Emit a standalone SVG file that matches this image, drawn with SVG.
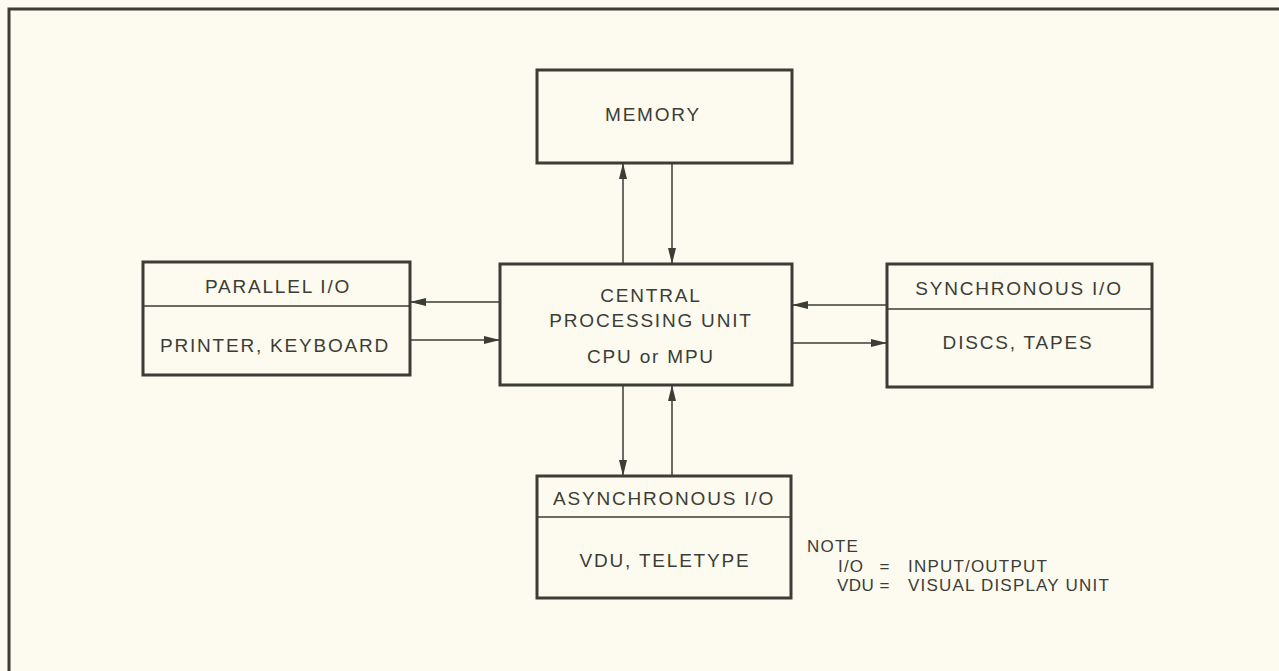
<svg xmlns="http://www.w3.org/2000/svg" width="1279" height="671" viewBox="0 0 1279 671">
<defs>
<style>
.box{fill:none;stroke:#3b3d36;stroke-width:3}
.div{stroke:#3b3d36;stroke-width:1.5}
.con{stroke:#3b3d36;stroke-width:1.5;fill:none}
text{font-family:"Liberation Sans",Arial,sans-serif;font-size:19px;fill:#3b3d36;letter-spacing:1.8px}
.c{text-anchor:middle}
.n{font-size:17px;letter-spacing:1.2px}
.t{letter-spacing:0.4px}
</style>
<marker id="ah" viewBox="0 0 16 8" refX="16" refY="4" markerWidth="16" markerHeight="8" markerUnits="userSpaceOnUse" orient="auto">
<path d="M0,0 L16,4 L0,8 Z" fill="#3b3d36"/>
</marker>
</defs>
<rect width="1279" height="671" fill="#fdfaef"/>
<g id="frame">
<path d="M1279,9 L9,9 L9,671" fill="none" stroke="#3b3d36" stroke-width="3"/>
</g>
<g id="memory">
<rect class="box" x="537" y="70" width="255" height="93"/>
<text class="c" x="653" y="121">MEMORY</text>
</g>
<g id="parallel">
<rect class="box" x="143" y="262" width="267" height="113"/>
<line class="div" x1="143" y1="306" x2="410" y2="306"/>
<text class="c" x="278" y="293">PARALLEL I/O</text>
<text class="c" x="275" y="352">PRINTER, KEYBOARD</text>
</g>
<g id="cpu">
<rect class="box" x="500" y="264" width="292" height="121"/>
<text class="c" x="651" y="302">CENTRAL</text>
<text class="c" x="651" y="327">PROCESSING UNIT</text>
<text class="c" x="651" y="363">CPU or MPU</text>
</g>
<g id="synchronous">
<rect class="box" x="887" y="264" width="265" height="123"/>
<line class="div" x1="887" y1="309" x2="1152" y2="309"/>
<text class="c" x="1019" y="295">SYNCHRONOUS I/O</text>
<text class="c" x="1018" y="349">DISCS, TAPES</text>
</g>
<g id="asynchronous">
<rect class="box" x="537" y="476" width="254" height="122"/>
<line class="div" x1="537" y1="517" x2="791" y2="517"/>
<text class="c" x="664" y="505">ASYNCHRONOUS I/O</text>
<text class="c" x="665" y="567">VDU, TELETYPE</text>
</g>
<g id="note">
<text class="n" x="807" y="552">NOTE</text>
<text class="n" x="838" y="572">I/O</text>
<text class="n c" x="885" y="572">=</text>
<text class="n" x="908" y="572">INPUT/OUTPUT</text>
<text class="n t" x="837" y="591">VDU</text>
<text class="n c" x="885" y="591">=</text>
<text class="n" x="908" y="591">VISUAL DISPLAY UNIT</text>
</g>
<g id="connectors">
<line class="con" x1="623" y1="264" x2="623" y2="163" marker-end="url(#ah)"/>
<line class="con" x1="672" y1="163" x2="672" y2="264" marker-end="url(#ah)"/>
<line class="con" x1="500" y1="302" x2="410" y2="302" marker-end="url(#ah)"/>
<line class="con" x1="410" y1="340" x2="500" y2="340" marker-end="url(#ah)"/>
<line class="con" x1="887" y1="305" x2="792" y2="305" marker-end="url(#ah)"/>
<line class="con" x1="792" y1="343" x2="887" y2="343" marker-end="url(#ah)"/>
<line class="con" x1="623" y1="385" x2="623" y2="476" marker-end="url(#ah)"/>
<line class="con" x1="672" y1="476" x2="672" y2="385" marker-end="url(#ah)"/>
</g>
</svg>
